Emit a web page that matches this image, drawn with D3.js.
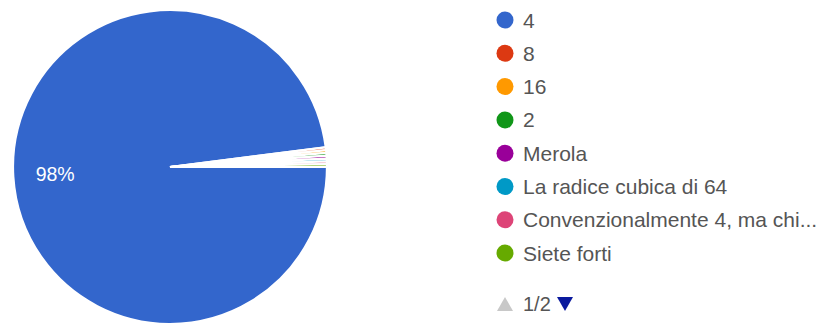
<!DOCTYPE html>
<html>
<head>
<meta charset="utf-8">
<script src="https://cdn.jsdelivr.net/npm/d3@7"></script>
<style>
  html, body { margin: 0; padding: 0; background: #fff; }
  svg { display: block; font-family: Arial, "Liberation Sans", sans-serif; }
</style>
</head>
<body>
<svg id="chart" width="828" height="326"></svg>
<script>
// Data
const categories = ["4", "8", "16", "2", "Merola", "La radice cubica di 64", "Convenzionalmente 4, ma chi...", "Siete forti"];
const values = [343, 1, 1, 1, 1, 1, 1, 1];
const colors = ["#3366cc", "#dc3912", "#ff9900", "#109618", "#990099", "#0099c6", "#dd4477", "#66aa00"];
const pageLabel = "1/2";

const svg = d3.select("#chart");
const cx = 170, cy = 167, R = 157;

const data = categories.map((c, i) => ({ name: c, value: values[i], color: colors[i] }));
const total = d3.sum(values);

const pie = d3.pie().value(d => d.value).sort(null)
  .startAngle(Math.PI / 2).endAngle(Math.PI / 2 + 2 * Math.PI);
const arcs = pie(data);
const arc = d3.arc().innerRadius(0).outerRadius(R);
const labelArc = d3.arc().innerRadius(R * 0.733).outerRadius(R * 0.733);

const g = svg.append("g").attr("transform", `translate(${cx},${cy})`);
g.selectAll("path.slice").data(arcs).join("path")
  .attr("class", "slice")
  .attr("d", arc)
  .attr("fill", d => d.data.color)
  .attr("stroke", "#ffffff")
  .attr("stroke-width", 2.2);

const fmt = v => Math.round(v / total * 100) + "%";
g.selectAll("text.pct").data(arcs.filter(d => d.data.value / total > 0.05)).join("text")
  .attr("class", "pct")
  .attr("x", d => labelArc.centroid(d)[0])
  .attr("y", d => labelArc.centroid(d)[1])
  .attr("text-anchor", "middle")
  .attr("dominant-baseline", "central")
  .attr("fill", "#ffffff")
  .attr("font-size", 19.5)
  .text(d => fmt(d.data.value));

// Legend
const legendX = 505, legendY0 = 20, rowH = 33.3;
const yRow = d3.scaleLinear().domain([0, 1]).range([legendY0, legendY0 + rowH]);
const lg = svg.append("g");
const rows = lg.selectAll("g.row").data(data).join("g")
  .attr("class", "row")
  .attr("transform", (d, i) => `translate(${legendX},${yRow(i)})`);
rows.append("circle").attr("r", 8.5).attr("fill", d => d.color);
rows.append("text")
  .attr("x", 18)
  .attr("dominant-baseline", "central")
  .attr("fill", "#555")
  .attr("font-size", 21)
  .text(d => d.name);

// Pagination
const pg = svg.append("g").attr("transform", `translate(${legendX},304)`);
pg.append("path").attr("d", "M-8,7 L8,7 L0,-7 Z").attr("fill", "#c8c8c8");
pg.append("text").attr("x", 18).attr("dominant-baseline", "central")
  .attr("fill", "#555").attr("font-size", 20).text(pageLabel);
pg.append("path").attr("d", "M52,-7 L68,-7 L60,7 Z").attr("fill", "#0b1a9e");
</script>
</body>
</html>
